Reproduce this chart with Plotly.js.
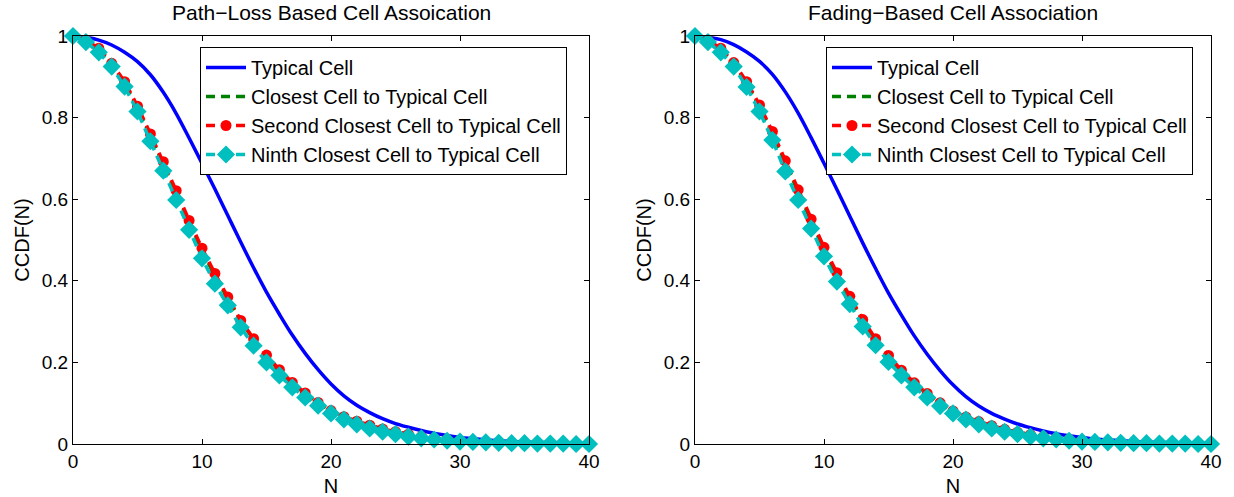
<!DOCTYPE html>
<html>
<head>
<meta charset="utf-8">
<script src="https://cdn.plot.ly/plotly-3.0.1.min.js"></script>
<style>html,body{margin:0;padding:0;background:#fff}#chart{width:1234px;height:497px}</style>
</head>
<body>
<div id="chart"></div>
<script>
// ---- data ----
const N = [0,1,2,3,4,5,6,7,8,9,10,11,12,13,14,15,16,17,18,19,20,21,22,23,24,25,26,27,28,29,30,31,32,33,34,35,36,37,38,39,40];

const seriesNames = ["Typical Cell", "Closest Cell to Typical Cell", "Second Closest Cell to Typical Cell", "Ninth Closest Cell to Typical Cell"];
const panelTitles = ["Path\u2212Loss Based Cell Assoication", "Fading\u2212Based Cell Association"];
const xTicks = [0, 10, 20, 30, 40];
const yTicks = [0, 0.2, 0.4, 0.6, 0.8, 1];
const yTickLabels = ["0", "0.2", "0.4", "0.6", "0.8", "1"];

// Path-loss based association
const plTypical = [1.0,0.997,0.99,0.978,0.96,0.937,0.905,0.862,0.81,0.75,0.688,0.625,0.56,0.495,0.432,0.372,0.318,0.267,0.222,0.182,0.147,0.118,0.095,0.077,0.062,0.05,0.041,0.033,0.026,0.021,0.016,0.013,0.01,0.008,0.006,0.005,0.004,0.003,0.002,0.002,0.001];
const plClosest = [1.0,0.988,0.966,0.93,0.884,0.824,0.755,0.686,0.615,0.543,0.474,0.412,0.356,0.302,0.256,0.215,0.18,0.149,0.123,0.1,0.081,0.066,0.054,0.044,0.036,0.029,0.023,0.018,0.014,0.011,0.008,0.006,0.005,0.004,0.003,0.002,0.002,0.001,0.001,0.001,0.0];
const plSecond = [1.0,0.99,0.97,0.933,0.888,0.828,0.76,0.692,0.621,0.548,0.48,0.418,0.36,0.303,0.258,0.218,0.182,0.151,0.125,0.102,0.082,0.067,0.056,0.046,0.037,0.03,0.024,0.018,0.014,0.011,0.008,0.006,0.005,0.004,0.003,0.002,0.002,0.001,0.001,0.001,0.0];
const plNinth = [1.0,0.985,0.96,0.925,0.876,0.815,0.742,0.67,0.598,0.525,0.455,0.393,0.34,0.286,0.241,0.2,0.168,0.139,0.114,0.094,0.075,0.06,0.048,0.038,0.03,0.024,0.018,0.014,0.011,0.008,0.006,0.005,0.004,0.003,0.002,0.002,0.001,0.001,0.001,0.0,0.0];

// Fading-based association
const fdTypical = [1.0,0.997,0.991,0.979,0.961,0.938,0.906,0.863,0.811,0.751,0.688,0.624,0.558,0.493,0.43,0.37,0.316,0.265,0.22,0.18,0.145,0.116,0.093,0.075,0.061,0.049,0.04,0.032,0.025,0.02,0.016,0.012,0.01,0.008,0.006,0.005,0.004,0.003,0.002,0.002,0.001];
const fdClosest = [1.0,0.988,0.967,0.931,0.885,0.827,0.76,0.69,0.618,0.546,0.476,0.413,0.356,0.302,0.255,0.214,0.179,0.148,0.122,0.099,0.08,0.065,0.053,0.043,0.035,0.028,0.022,0.018,0.014,0.011,0.008,0.006,0.005,0.004,0.003,0.002,0.002,0.001,0.001,0.001,0.0];
const fdSecond = [1.0,0.99,0.97,0.935,0.888,0.831,0.766,0.694,0.623,0.551,0.482,0.42,0.362,0.305,0.258,0.217,0.181,0.15,0.124,0.101,0.081,0.066,0.055,0.045,0.036,0.029,0.023,0.018,0.014,0.011,0.008,0.006,0.005,0.004,0.003,0.002,0.002,0.001,0.001,0.001,0.0];
const fdNinth = [1.0,0.985,0.96,0.925,0.875,0.815,0.745,0.668,0.598,0.528,0.46,0.398,0.343,0.288,0.242,0.201,0.168,0.139,0.114,0.093,0.075,0.06,0.048,0.038,0.03,0.024,0.018,0.014,0.011,0.008,0.006,0.005,0.004,0.003,0.002,0.002,0.001,0.001,0.001,0.0,0.0];

// ---- styles ----
const FONT = "Liberation Sans, Arial, Helvetica, sans-serif";
const BLUE = "#0000ff", GREEN = "#008000", RED = "#ff0000", CYAN = "#00bfbf";
const DASH = "9px,6px";

function panelTraces(typ, clo, sec, nin, xa, ya, lg) {
  return [
    {x: N, y: typ, name: seriesNames[0], mode: "lines", xaxis: xa, yaxis: ya, legend: lg,
     line: {color: BLUE, width: 3.5, shape: "spline"}, cliponaxis: false},
    {x: N, y: clo, name: seriesNames[1], mode: "lines", xaxis: xa, yaxis: ya, legend: lg,
     line: {color: GREEN, width: 3.5, dash: DASH}, cliponaxis: false},
    {x: N, y: sec, name: seriesNames[2], mode: "lines+markers", xaxis: xa, yaxis: ya, legend: lg,
     line: {color: RED, width: 3.5, dash: DASH},
     marker: {symbol: "circle", size: 11, color: RED, line: {width: 0}}, cliponaxis: false},
    {x: N, y: nin, name: seriesNames[3], mode: "lines+markers", xaxis: xa, yaxis: ya, legend: lg,
     line: {color: CYAN, width: 3.5, dash: DASH},
     marker: {symbol: "diamond", size: 14, color: CYAN, line: {width: 0}}, cliponaxis: false}
  ];
}

const data = [].concat(
  panelTraces(plTypical, plClosest, plSecond, plNinth, "x", "y", "legend"),
  panelTraces(fdTypical, fdClosest, fdSecond, fdNinth, "x2", "y2", "legend2")
);

const W = 1234, H = 497;
const plotTop = 36, plotBottom = 444;
const yDom = [(H - plotBottom) / H, (H - plotTop) / H];

function xAxis(dom, anchor) {
  return {domain: dom, anchor: anchor, range: [0, 40], tickvals: xTicks, ticktext: xTicks.map(String),
    showline: true, linecolor: "#000", linewidth: 1, mirror: "allticks", ticks: "inside", ticklen: 5,
    tickcolor: "#000", showgrid: false, zeroline: false, fixedrange: true,
    tickfont: {family: FONT, size: 19, color: "#000"},
    title: {text: "N", font: {family: FONT, size: 20, color: "#000"}, standoff: 9}};
}
function yAxis(anchor) {
  return {domain: yDom, anchor: anchor, range: [0, 1], tickvals: yTicks, ticktext: yTickLabels,
    showline: true, linecolor: "#000", linewidth: 1, mirror: "allticks", ticks: "inside", ticklen: 5,
    tickcolor: "#000", showgrid: false, zeroline: false, fixedrange: true,
    tickfont: {family: FONT, size: 19, color: "#000"},
    title: {text: "CCDF(N)", font: {family: FONT, size: 20, color: "#000"}, standoff: 6}};
}

const xDom1 = [73 / W, 589 / W];
const xDom2 = [695 / W, 1211 / W];

function legendAt(xpx) {
  return {x: xpx / W, y: 1 - 47 / H, xanchor: "left", yanchor: "top", xref: "paper", yref: "paper",
    bgcolor: "#fff", bordercolor: "#000", borderwidth: 1,
    font: {family: FONT, size: 20, color: "#000"}, itemwidth: 40, tracegroupgap: 0};
}

const layout = {
  width: W, height: H,
  margin: {l: 0, r: 0, t: 0, b: 0},
  paper_bgcolor: "#fff", plot_bgcolor: "#fff",
  showlegend: true,
  xaxis: xAxis(xDom1, "y"),
  yaxis: yAxis("x"),
  xaxis2: xAxis(xDom2, "y2"),
  yaxis2: yAxis("x2"),
  legend: legendAt(200),
  legend2: legendAt(826),
  annotations: [
    {text: panelTitles[0], xref: "paper", yref: "paper", x: (xDom1[0] + xDom1[1]) / 2, y: 1 - 13 / H,
     xanchor: "center", yanchor: "middle", showarrow: false, font: {family: FONT, size: 21, color: "#000"}},
    {text: panelTitles[1], xref: "paper", yref: "paper", x: (xDom2[0] + xDom2[1]) / 2, y: 1 - 13 / H,
     xanchor: "center", yanchor: "middle", showarrow: false, font: {family: FONT, size: 21, color: "#000"}}
  ]
};

Plotly.newPlot("chart", data, layout, {displayModeBar: false, staticPlot: true});
</script>
</body>
</html>
